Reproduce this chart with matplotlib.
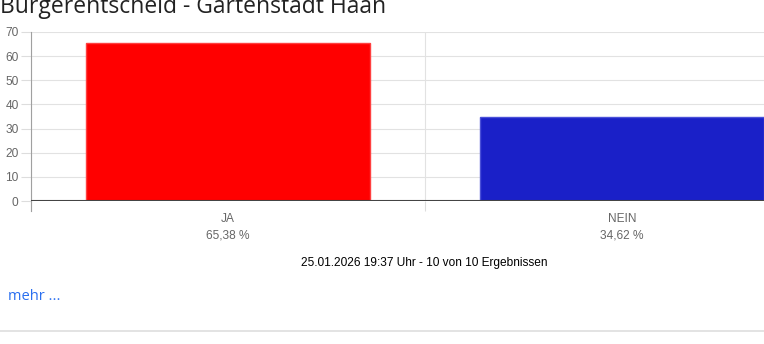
import numpy as np
import matplotlib.pyplot as plt
from matplotlib.lines import Line2D

# Daten
titel = "Bürgerentscheid - Gartenstadt Haan"
kategorien = ["JA", "NEIN"]
prozente = [65.38, 34.62]
farben = ["#ff0000", "#1a20c8"]
randfarben = ["#ff4040", "#4a50d8"]
stand = "25.01.2026 19:37 Uhr - 10 von 10 Ergebnissen"
link_text = "mehr ..."

W, H = 764, 344
fig = plt.figure(figsize=(W / 100, H / 100), dpi=100)

# Plotbereich in Pixeln (rechts über den Rand hinaus, wie im Original abgeschnitten)
links, rechts, oben, unten = 31, 819, 32, 201
ax = fig.add_axes([links / W, 1 - unten / H, (rechts - links) / W, (unten - oben) / H])

x = np.arange(len(kategorien))
ax.bar(x, prozente, width=0.72, color=farben, edgecolor=randfarben, linewidth=1, zorder=2)

ax.set_xlim(-0.5, len(kategorien) - 0.5)
ax.set_ylim(0, 70)
ax.set_yticks(range(0, 71, 10))

labels = [k + "\n" + f"{p:.2f}".replace(".", ",") + " %" for k, p in zip(kategorien, prozente)]
ax.set_xticks(x)
ax.set_xticklabels(labels, fontfamily="Liberation Sans", fontsize=8.6, color="#666666",
                   linespacing=1.45)
ax.set_xticks(np.arange(-0.5, len(kategorien), 1.0), minor=True)

ax.tick_params(axis="x", which="major", length=0, pad=9)
ax.tick_params(axis="x", which="minor", length=7.2, color="#dddddd", width=0.8)
ax.tick_params(axis="y", length=7, color="#dddddd", width=0.8, pad=2, labelsize=8.6,
               labelcolor="#666666")
for t in ax.get_yticklabels():
    t.set_fontfamily("Liberation Sans")

ax.grid(axis="y", color="#e2e2e2", linewidth=0.8, zorder=0)
ax.grid(axis="x", which="minor", color="#e2e2e2", linewidth=0.8, zorder=0)
ax.set_axisbelow(True)

for s in ["top", "right", "bottom"]:
    ax.spines[s].set_visible(False)
ax.spines["left"].set_color("#a0a0a0")
ax.spines["left"].set_linewidth(0.8)
ax.axhline(0, color="#444444", linewidth=1.5, zorder=3)
# linke Achse ein Stück unter die Nulllinie verlängern
ax.plot([0, 0], [-10 / (unten - oben), 0], transform=ax.transAxes, color="#a0a0a0",
        linewidth=0.8, clip_on=False)

# Texte
fig.text(0, 1 - 13 / H, titel, fontfamily="Open Sans", fontsize=16.5, color="#222222",
         va="baseline", ha="left")
fig.text(424 / W, 1 - 263 / H, stand, fontfamily="Liberation Sans", fontsize=8.6,
         color="#000000", ha="center", va="center")
fig.text(8 / W, 1 - 296 / H, link_text, fontfamily="Open Sans", fontsize=10.5,
         color="#2a6ff0", ha="left", va="center")
fig.add_artist(Line2D([0, 1], [1 - 331 / H, 1 - 331 / H], transform=fig.transFigure,
                      color="#dedede", linewidth=1.2))

fig.savefig("out.png", dpi=100)
